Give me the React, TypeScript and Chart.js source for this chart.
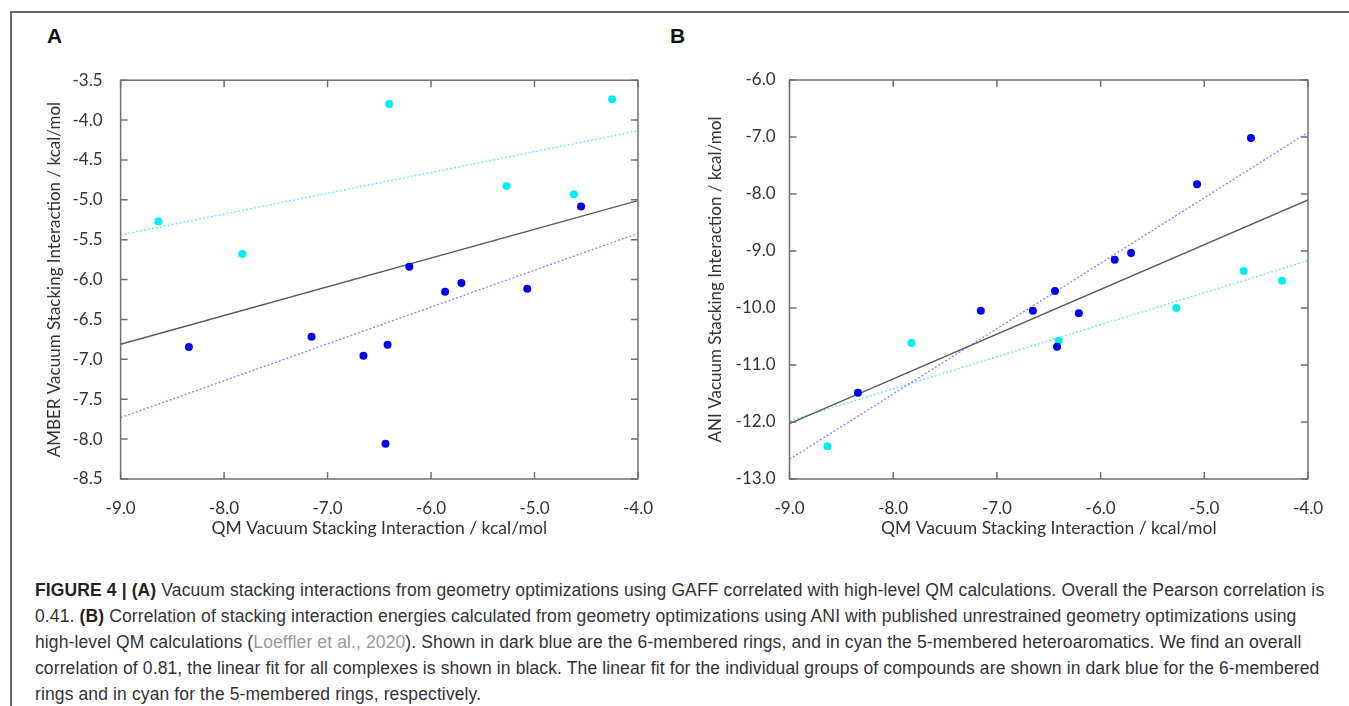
import React, { useEffect, useRef } from "react";
import { Chart, registerables } from "chart.js";

Chart.register(...registerables);

// ---------- data ----------
const QM_SIX = [-8.34, -7.155, -6.653, -6.44, -6.42, -6.21, -5.864, -5.706, -5.07, -4.55];
const QM_FIVE = [-8.634, -7.824, -6.404, -5.27, -4.62, -4.25];

const AMBER_SIX = [-6.846, -6.717, -6.955, -8.058, -6.817, -5.84, -6.153, -6.044, -6.115, -5.083];
const AMBER_FIVE = [-5.27, -5.68, -3.797, -4.828, -4.929, -3.738];

const ANI_SIX = [-11.486, -10.05, -10.05, -9.7, -10.68, -10.09, -9.153, -9.035, -7.83, -7.018];
const ANI_FIVE = [-12.426, -10.614, -10.574, -10.0, -9.35, -9.52];

const FIT_X = [-9, -4];
const AMBER_FIT_ALL = [-6.81, -5.01];
const AMBER_FIT_SIX = [-7.73, -5.42];
const AMBER_FIT_FIVE = [-5.44, -4.135];
const ANI_FIT_ALL = [-12.03, -8.105];
const ANI_FIT_SIX = [-12.655, -6.92];
const ANI_FIT_FIVE = [-11.98, -9.17];

const X_TICKS = [-9, -8, -7, -6, -5, -4];
const AMBER_Y_TICKS = [-8.5, -8, -7.5, -7, -6.5, -6, -5.5, -5, -4.5, -4, -3.5];
const ANI_Y_TICKS = [-13, -12, -11, -10, -9, -8, -7, -6];

const X_TITLE = "QM Vacuum Stacking Interaction / kcal/mol";
const AMBER_TITLE = "AMBER Vacuum Stacking Interaction / kcal/mol";
const ANI_TITLE = "ANI Vacuum Stacking Interaction / kcal/mol";

// ---------- styles ----------
const BLUE = "#0000ee";
const CYAN = "#00eef2";
const FIT_BLACK = "#5a5a5a";
const FIT_BLUE = "#8c8cf2";
const FIT_CYAN = "#6ee6ee";
const AXIS = "#707070";
const TEXT = "#333333";
const FONT = "Lato, 'Open Sans', sans-serif";

const boxPlugin = {
  id: "boxTicks",
  afterDraw(chart: any) {
    const { ctx, chartArea: a, scales } = chart;
    const tl = 7;
    ctx.save();
    ctx.strokeStyle = AXIS;
    ctx.lineWidth = 1.5;
    ctx.strokeRect(a.left, a.top, a.right - a.left, a.bottom - a.top);
    ctx.beginPath();
    scales.x.ticks.forEach((t: any) => {
      const px = scales.x.getPixelForValue(t.value);
      ctx.moveTo(px, a.bottom);
      ctx.lineTo(px, a.bottom - tl);
      ctx.moveTo(px, a.top);
      ctx.lineTo(px, a.top + tl);
    });
    scales.y.ticks.forEach((t: any) => {
      const py = scales.y.getPixelForValue(t.value);
      ctx.moveTo(a.left, py);
      ctx.lineTo(a.left + tl, py);
      ctx.moveTo(a.right, py);
      ctx.lineTo(a.right - tl, py);
    });
    ctx.stroke();
    ctx.restore();
  },
};

type PanelProps = {
  left: number;
  top: number;
  width: number;
  height: number;
  yWidth: number;
  xHeight: number;
  padTop: number;
  padRight: number;
  yLabelPad: number;
  yTitlePad: number;
  xTitlePad: number;
  yTitle: string;
  yTicks: number[];
  six: number[];
  five: number[];
  fitAll: number[];
  fitSix: number[];
  fitFive: number[];
};

function pts(xs: number[], ys: number[]) {
  return xs.map((x, i) => ({ x, y: ys[i] }));
}

function Panel(p: PanelProps) {
  const ref = useRef<HTMLCanvasElement | null>(null);
  useEffect(() => {
    if (!ref.current) return;
    const yMin = p.yTicks[0];
    const yMax = p.yTicks[p.yTicks.length - 1];
    const chart = new Chart(ref.current, {
      type: "scatter",
      data: {
        datasets: [
          { label: "6-membered", data: pts(QM_SIX, p.six), backgroundColor: BLUE, borderWidth: 0, pointRadius: 4 },
          { label: "5-membered", data: pts(QM_FIVE, p.five), backgroundColor: CYAN, borderWidth: 0, pointRadius: 4 },
          { label: "fit all", data: pts(FIT_X, p.fitAll), showLine: true, borderColor: FIT_BLACK, borderWidth: 1.4, pointRadius: 0 },
          { label: "fit 6", data: pts(FIT_X, p.fitSix), showLine: true, borderColor: FIT_BLUE, borderWidth: 1.4, borderDash: [2, 2], pointRadius: 0 },
          { label: "fit 5", data: pts(FIT_X, p.fitFive), showLine: true, borderColor: FIT_CYAN, borderWidth: 1.4, borderDash: [2, 2], pointRadius: 0 },
        ] as any,
      },
      options: {
        animation: false,
        responsive: false,
        maintainAspectRatio: false,
        layout: { padding: { top: p.padTop, right: p.padRight, left: 0, bottom: 0 } },
        plugins: { legend: { display: false }, tooltip: { enabled: false } },
        scales: {
          x: {
            type: "linear",
            min: X_TICKS[0],
            max: X_TICKS[X_TICKS.length - 1],
            afterBuildTicks: (s: any) => {
              s.ticks = X_TICKS.map((v) => ({ value: v }));
            },
            afterFit: (s: any) => {
              s.height = p.xHeight;
            },
            grid: { display: false },
            border: { display: false },
            ticks: {
              autoSkip: false,
              maxRotation: 0,
              padding: 11,
              color: TEXT,
              font: { family: FONT, size: 17 },
              callback: (v: any) => Number(v).toFixed(1),
            },
            title: {
              display: true,
              text: X_TITLE,
              color: TEXT,
              font: { family: FONT, size: 17.5 },
              padding: { top: 0, bottom: p.xTitlePad },
            },
          },
          y: {
            type: "linear",
            min: yMin,
            max: yMax,
            afterBuildTicks: (s: any) => {
              s.ticks = p.yTicks.map((v) => ({ value: v }));
            },
            afterFit: (s: any) => {
              s.width = p.yWidth;
            },
            grid: { display: false },
            border: { display: false },
            ticks: {
              autoSkip: false,
              padding: p.yLabelPad,
              color: TEXT,
              font: { family: FONT, size: 17 },
              callback: (v: any) => Number(v).toFixed(1),
            },
            title: {
              display: true,
              text: p.yTitle,
              color: TEXT,
              font: { family: FONT, size: 17 },
              padding: { top: p.yTitlePad, bottom: 0 },
            },
          },
        },
      } as any,
      plugins: [boxPlugin],
    });
    return () => chart.destroy();
  }, []);
  return (
    <canvas
      ref={ref}
      width={p.width}
      height={p.height}
      style={{ position: "absolute", left: p.left, top: p.top, width: p.width, height: p.height }}
    />
  );
}

const CAPTION_FONT = "'Liberation Sans', Arial, sans-serif";

export default function App() {
  const labelStyle: React.CSSProperties = {
    position: "absolute",
    top: 25,
    fontFamily: CAPTION_FONT,
    fontWeight: 700,
    fontSize: 21,
    lineHeight: "21px",
    color: "#111",
  };
  const lineStyle: React.CSSProperties = { whiteSpace: "nowrap", height: 26 };
  return (
    <div
      style={{
        position: "absolute",
        left: 0,
        top: 0,
        width: 1349,
        height: 706,
        overflow: "hidden",
        background: "#fff",
      }}
    >
      <div
        style={{
          position: "absolute",
          left: 10,
          top: 11,
          width: 1400,
          height: 720,
          borderTop: "2px solid #666",
          borderLeft: "2px solid #666",
          boxSizing: "border-box",
        }}
      />
      <div style={{ ...labelStyle, left: 47 }}>A</div>
      <div style={{ ...labelStyle, left: 670 }}>B</div>
      <Panel
        left={14}
        top={60}
        width={650}
        height={500}
        yWidth={106.6}
        xHeight={81}
        padTop={20}
        padRight={15.7}
        yLabelPad={10}
        yTitlePad={30}
        xTitlePad={20.8}
        yTitle={AMBER_TITLE}
        yTicks={AMBER_Y_TICKS}
        six={AMBER_SIX}
        five={AMBER_FIVE}
        fitAll={AMBER_FIT_ALL}
        fitSix={AMBER_FIT_SIX}
        fitFive={AMBER_FIT_FIVE}
      />
      <Panel
        left={680}
        top={60}
        width={655}
        height={500}
        yWidth={109.5}
        xHeight={81}
        padTop={20}
        padRight={27}
        yLabelPad={6}
        yTitlePad={25.3}
        xTitlePad={20.8}
        yTitle={ANI_TITLE}
        yTicks={ANI_Y_TICKS}
        six={ANI_SIX}
        five={ANI_FIVE}
        fitAll={ANI_FIT_ALL}
        fitSix={ANI_FIT_SIX}
        fitFive={ANI_FIT_FIVE}
      />
      <div
        style={{
          position: "absolute",
          left: 35,
          top: 576.5,
          fontFamily: CAPTION_FONT,
          fontSize: 17.5,
          letterSpacing: "0.12px",
          lineHeight: "26px",
          color: "#333",
        }}
      >
        <div style={lineStyle}>
          <b style={{ color: "#222" }}>FIGURE 4 | (A)</b> Vacuum stacking interactions from geometry optimizations using
          GAFF correlated with high-level QM calculations. Overall the Pearson correlation is
        </div>
        <div style={lineStyle}>
          0.41. <b style={{ color: "#222" }}>(B)</b> Correlation of stacking interaction energies calculated from geometry
          optimizations using ANI with published unrestrained geometry optimizations using
        </div>
        <div style={lineStyle}>
          high-level QM calculations (<span style={{ color: "#999" }}>Loeffler et al., 2020</span>). Shown in dark blue are
          the 6-membered rings, and in cyan the 5-membered heteroaromatics. We find an overall
        </div>
        <div style={lineStyle}>
          correlation of 0.81, the linear fit for all complexes is shown in black. The linear fit for the individual groups
          of compounds are shown in dark blue for the 6-membered
        </div>
        <div style={lineStyle}>rings and in cyan for the 5-membered rings, respectively.</div>
      </div>
    </div>
  );
}
